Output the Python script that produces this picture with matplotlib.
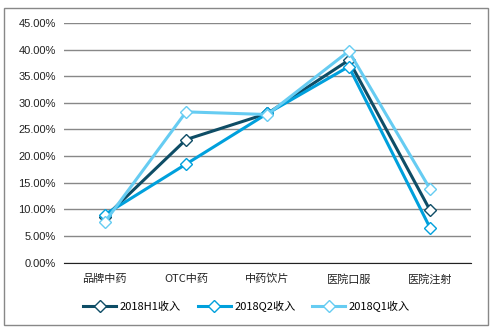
import matplotlib
matplotlib.use("Agg")
import matplotlib.pyplot as plt
from matplotlib.patches import Rectangle
from matplotlib.ticker import FuncFormatter

plt.rcParams['font.family'] = ['Liberation Sans', 'Noto Sans CJK SC', 'DejaVu Sans']

categories = ["品牌中药", "OTC中药", "中药饮片", "医院口服", "医院注射"]
series_names = ["2018H1收入", "2018Q2收入", "2018Q1收入"]
h1_values = [8.5, 23.1, 28.0, 38.0, 9.8]
q2_values = [9.0, 18.5, 28.0, 36.8, 6.5]
q1_values = [7.6, 28.3, 27.8, 39.7, 13.8]
colors = ["#0E4D66", "#00A0DC", "#66CCF2"]

fig = plt.figure(figsize=(4.93, 3.32), dpi=100)
fig.patches.append(Rectangle((0.008, 0.02), 0.982, 0.955, transform=fig.transFigure,
                             fill=False, edgecolor="#888888", linewidth=1.0))
ax = fig.add_axes([0.13, 0.209, 0.825, 0.722])

x = list(range(len(categories)))
for vals, name, c in zip([h1_values, q2_values, q1_values], series_names, colors):
    ax.plot(x, [v / 100 for v in vals], color=c, linewidth=2.2, marker="D",
            markersize=6.5, markerfacecolor="white", markeredgecolor=c,
            markeredgewidth=1.0, label=name)

ax.set_xlim(-0.5, len(categories) - 0.5)
ax.set_ylim(0, 0.45)
ax.set_yticks([i * 0.05 for i in range(10)])
ax.yaxis.set_major_formatter(FuncFormatter(lambda v, p: f"{v * 100:.2f}%"))
ax.set_xticks(x)
ax.set_xticklabels(categories, fontfamily=['Noto Sans CJK SC'])
ax.tick_params(axis="both", length=0, labelsize=8, colors="#222222", pad=6)
ax.tick_params(axis="x", pad=8)
ax.grid(axis="y", color="#888888", linewidth=1.0)
ax.set_axisbelow(True)
for s in ["top", "right", "left"]:
    ax.spines[s].set_visible(False)
ax.spines["bottom"].set_color("#222222")

fig.legend(loc="center", bbox_to_anchor=(0.5, 0.078), ncol=3, frameon=False,
           prop={"family": "Noto Sans CJK SC", "size": 8}, handlelength=3,
           columnspacing=1.5, handletextpad=0.3)

fig.savefig("out.png", dpi=100, facecolor="white")
